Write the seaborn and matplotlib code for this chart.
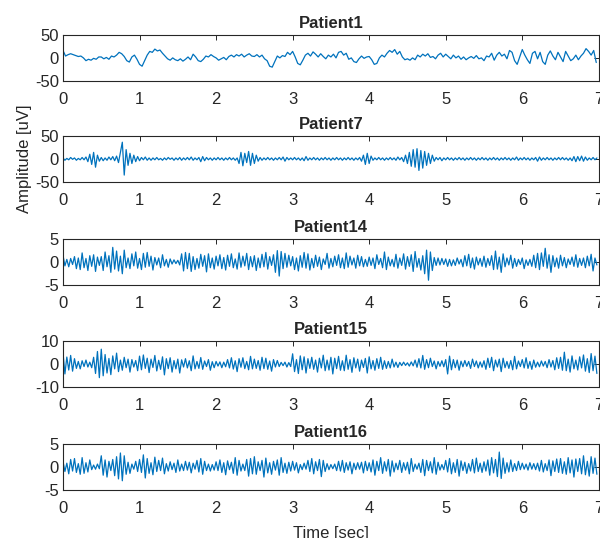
import numpy as np
import pandas as pd
import matplotlib
matplotlib.use("Agg")
import matplotlib.pyplot as plt
import seaborn as sns

# signal values (uV)
patients = ["Patient1", "Patient7", "Patient14", "Patient15", "Patient16"]
ylims = [50, 50, 5, 10, 5]

# Patient1, ~30 samples/sec
p1 = [
    16, 4, 7, 9, 7, 5, 3, 4, 0, -6, -3, -5, -1, -3, 2,
    2, -2, 1, -3, 4, 2, 6, 12, 9, 3, -6, -9, 2, 6, -3,
    -14, -18, -6, 6, 14, 12, 19, 15, 17, 10, 4, -2, -5, 0, -4,
    -6, -2, -7, -3, 2, -4, 8, 2, -6, -8, -3, 4, 2, 7, 3,
    0, -5, -2, 1, -4, 3, 6, 2, 7, 4, 8, 2, 6, 9, 4,
    3, 7, 2, 6, -2, -6, -18, -20, -8, 4, 0, 5, 3, 12, 7,
    14, 2, -12, -15, -5, 6, 10, 4, 13, 8, 2, 9, 3, -2, 6,
    2, 8, 0, 12, 14, 6, 10, -3, 0, -8, -10, -2, 4, -1, 2,
    3, -4, -14, -12, 0, 6, 2, 10, 16, 12, 18, 8, 14, 2, -4,
    -2, -5, 0, -4, 6, 2, 8, 4, 9, 1, 3, -2, 6, 10, 2,
    8, 3, -2, 6, 0, 4, -3, 2, -4, 0, 3, -1, 5, -2, 0,
    -6, 4, 2, 10, -5, 6, 12, 4, 8, -2, 16, 12, -6, -14, 2,
    18, 6, -4, -12, 10, 14, -2, 12, -8, -14, 6, 15, 4, -4, 12,
    2, -8, 14, 4, -6, -2, 6, -4, 4, 10, 20, 14, 6, 16, -10,
]

# Patient7, ~40 samples/sec
p7 = [
    2, -3, 1, -2, 3, -1, 2, -3, 1, -2, 3, -2, 4, -6, 10, -12, 14, -18, 8, -5,
    3, -4, 2, -3, 4, -2, 5, -4, 6, -8, 14, 36, -35, 20, -14, 12, -10, 8, -6, 5,
    -4, 3, -2, 4, -3, 2, -3, 2, -2, 3, -2, 1, -3, 2, -2, 3, -1, 2, -3, 2,
    -2, 3, -3, 2, -2, 3, -2, 4, -3, 2, -2, 3, -6, 5, -4, 3, -2, 2, -3, 2,
    -2, 3, -2, 2, -3, 2, -2, 3, -2, 2, -3, 2, -10, 14, -15, 12, -8, 16, -14, 12,
    -10, 8, -5, 3, -3, 2, -2, 3, -2, 2, -3, 2, -2, 3, -2, 4, -5, 3, -2, 2,
    -2, 3, -2, 2, -3, 2, -4, 5, -3, 2, -2, 3, -2, 2, -3, 2, -2, 3, -2, 2,
    -3, 2, -2, 3, -2, 2, -3, 2, -2, 3, -2, 2, -3, 2, -2, 3, -5, 8, -12, 12,
    -10, 6, -3, 2, -2, 3, -2, 2, -3, 2, -2, 3, -2, 2, -3, 4, -2, 3, -6, 8,
    -10, 14, -16, 20, -18, 22, -25, 18, -20, 16, -14, 12, -10, 8, -5, 3, -2, 3, -4, 2,
    -2, 3, -2, 2, -3, 2, -2, 3, -2, 2, -3, 2, -2, 3, -2, 2, -3, 2, -2, 3,
    -2, 2, -3, 2, -2, 3, -2, 2, -3, 2, -2, 3, -2, 2, -3, 2, -2, 4, -3, 2,
    -2, 3, -2, 2, -3, 2, -2, 3, -5, 4, -3, 2, -2, 3, -2, 2, -3, 2, -2, 3,
    -2, 3, -2, 2, -3, 2, -4, 5, -6, 5, -4, 6, -5, 4, -3, 2, -2, 3, -2, 2,
]

p14 = [
    1.5, -0.8, 0.6, -1.0, 0.8, -0.5, 1.2, -1.4, 0.9, -1.6, 2.0, -1.2, 0.8, -1.8, 1.4, -0.9, 1.6, -2.0, 1.1, -0.7,
    1.2, -1.8, 2.2, -1.0, 1.4, -2.2, 3.2, -1.5, 2.4, -1.9, 1.3, -2.5, 2.6, -1.2, 0.9, -1.4, 1.8, -0.8, 2.2, -1.3,
    0.8, -1.6, 1.9, -1.1, 2.1, -0.9, 1.3, -1.7, 1.0, -0.6, 0.9, -1.2, 1.6, -0.8, 0.6, -1.1, 0.7, -0.4, 0.5, -0.3,
    0.4, -0.6, 1.8, -1.9, 2.1, -1.4, 1.9, -2.0, 1.2, -1.6, 0.8, -1.3, 1.7, -0.9, 1.4, -2.1, 1.8, -1.2, 0.9, -1.5,
    1.3, -0.8, 1.6, -1.4, 1.0, -1.7, 1.5, -0.9, 1.8, -1.2, 0.7, -1.5, 2.0, -1.1, 1.3, -0.8, 1.9, -1.6, 1.2, -1.0,
    1.4, -1.8, 0.9, -1.2, 1.7, -1.0, 2.1, -1.5, 1.2, -0.7, 1.6, -2.2, 2.5, -3.0, 2.3, -1.4, 1.9, -1.1, 1.5, -0.8,
    1.2, -1.6, 0.9, -1.9, 1.4, -1.1, 2.1, -1.3, 1.8, -1.7, 0.8, -1.2, 1.5, -0.9, 1.1, -1.6, 0.7, -0.5, 1.9, -1.3,
    0.8, -1.0, 1.3, -0.7, 1.6, -1.2, 0.9, -1.4, 2.0, -1.1, 1.3, -0.6, 0.9, -1.3, 1.5, -0.8, 1.2, -1.0, 0.6, -0.9,
    1.1, -0.7, 0.9, -1.4, 1.6, -0.5, 0.8, -1.2, 2.2, -1.6, 1.1, -0.8, 0.6, -1.0, 1.7, -1.3, 0.9, -0.7, 1.8, -1.5,
    1.2, -0.9, 1.6, -2.0, 2.3, -1.1, 0.8, -1.7, 1.4, -2.5, 2.6, -3.9, 2.2, -1.8, 1.0, -0.7, 0.9, -0.6, 0.8, -0.5,
    0.7, -0.9, 0.6, -0.8, 0.5, -0.7, 0.9, -0.4, 0.6, -1.0, 1.4, -0.8, 1.7, -1.2, 0.9, -1.5, 1.1, -0.6, 0.8, -0.9,
    1.3, -1.1, 0.8, -0.7, 1.4, -1.6, 2.4, -1.5, 1.1, -2.2, 1.8, -1.0, 0.9, -0.6, 1.5, -1.3, 0.8, -0.9, 0.6, -0.5,
    0.9, -1.4, 0.5, -0.7, 0.6, -0.9, 1.5, -1.2, 1.9, -1.6, 2.0, -0.9, 3.0, -1.3, 1.6, -2.2, 1.4, -1.0, 0.9, -1.3,
    1.5, -0.8, 1.0, -1.2, 0.7, -0.5, 1.1, -0.9, 1.6, -1.1, 0.8, -0.7, 0.9, -1.2, 1.3, -0.8, 1.7, -1.9, 0.9, -0.6,
]

p15 = [
    5.0, -4.2, 3.1, -2.5, 3.8, -3.0, 2.4, -1.8, 1.2, -2.0, 1.5, -1.0, 1.8, -1.2, 0.9, -1.5, 3.0, -4.0, 5.5, -5.8,
    6.5, -5.0, 4.2, -3.8, 2.5, -4.5, 3.6, -2.0, 4.8, -3.2, 1.8, -2.6, 3.0, -1.5, 2.2, -3.4, 2.0, -1.2, 1.6, -2.8,
    3.5, -2.4, 4.0, -1.8, 2.6, -3.6, 2.2, -1.4, 3.8, -2.9, 1.7, -2.2, 3.2, -4.6, 2.4, -1.9, 2.8, -3.4, 1.6, -2.0,
    2.2, -3.8, 1.9, -1.2, 2.4, -1.6, 1.5, -2.8, 3.6, -2.0, 1.2, -1.8, 2.9, -2.2, 1.4, -1.0, 2.0, -2.6, 1.1, -1.5,
    1.2, -0.8, 1.0, -1.5, 0.9, -1.1, 2.0, -1.6, 2.8, -2.1, 1.5, -3.2, 2.4, -1.3, 2.8, -1.9, 1.2, -2.4, 3.4, -2.0,
    2.2, -1.8, 1.6, -2.6, 3.0, -1.9, 2.6, -2.2, 1.4, -3.0, 2.0, -1.2, 1.6, -1.0, 0.8, -0.6, 0.9, -1.2, 0.7, -1.0,
    4.5, -3.2, 2.0, -4.0, 3.6, -2.4, 3.2, -3.8, 2.4, -1.8, 3.0, -2.2, 1.8, -3.4, 2.6, -1.6, 3.9, -2.8, 1.8, -2.5,
    3.0, -4.2, 2.6, -1.9, 3.4, -2.6, 1.5, -2.8, 3.9, -2.2, 2.0, -3.5, 2.8, -1.6, 2.2, -3.0, 1.8, -1.4, 2.5, -3.8,
    3.2, -2.0, 1.6, -2.6, 2.4, -1.8, 3.0, -2.2, 1.5, -1.8, 1.2, -1.6, 2.2, -1.2, 0.9, -1.4, 0.8, -0.6, 0.9, -0.5,
    0.6, -0.8, 1.0, -0.7, 1.8, -1.3, 2.4, -1.6, 3.8, -2.2, 2.0, -1.5, 2.6, -1.0, 1.4, -2.0, 1.2, -0.9, 1.5, -1.1,
    2.0, -4.2, 3.5, -2.4, 2.0, -1.5, 1.8, -2.6, 1.3, -1.1, 1.6, -0.9, 1.2, -1.8, 2.2, -1.0, 1.4, -1.6, 1.0, -1.3,
    1.5, -2.2, 2.6, -1.4, 3.0, -2.8, 1.8, -1.2, 2.2, -3.2, 2.6, -1.5, 1.2, -1.8, 1.6, -2.4, 3.4, -2.0, 1.4, -1.0,
    2.0, -1.6, 2.8, -1.8, 1.2, -2.2, 1.8, -1.3, 0.9, -1.1, 1.4, -0.8, 1.2, -1.5, 2.0, -1.2, 1.6, -2.4, 2.8, -1.8,
    3.0, -2.6, 5.2, -2.8, 2.2, -3.4, 3.6, -2.0, 1.8, -2.5, 3.2, -1.6, 4.0, -3.0, 2.4, -3.6, 4.6, -2.8, 3.5, -4.0,
]

p16 = [
    1.2, -1.0, 0.8, -1.5, 1.6, -0.9, 1.8, -1.2, 0.7, -1.6, 2.0, -1.4, 0.9, -1.1, 1.5, -0.6, 0.4, -0.5, 0.6, -0.4,
    2.4, -1.8, 1.5, -2.2, 1.2, -0.8, 1.6, -1.9, 2.2, -2.6, 3.0, -3.0, 2.4, -1.6, 1.0, -1.4, 0.6, -0.5, 1.2, -1.0,
    1.6, -1.2, 2.6, -2.4, 1.8, -1.4, 0.9, -1.7, 2.1, -1.0, 1.4, -0.8, 1.9, -1.5, 0.7, -0.9, 1.1, -0.6, 0.8, -1.2,
    1.5, -0.9, 0.6, -0.8, 1.2, -0.7, 1.0, -1.3, 0.8, -0.5, 1.4, -1.1, 1.8, -1.6, 1.2, -0.8, 0.6, -0.9, 0.5, -0.7,
    1.1, -0.8, 1.5, -1.2, 0.9, -1.7, 1.3, -0.6, 1.0, -1.4, 2.0, -1.8, 1.4, -0.9, 0.6, -0.8, 1.6, -2.0, 1.8, -1.5,
    2.2, -1.6, 1.1, -0.8, 1.4, -2.2, 1.9, -1.3, 0.9, -1.6, 1.2, -0.7, 1.5, -1.8, 2.0, -1.2, 0.8, -1.4, 1.0, -0.9,
    1.2, -0.7, 0.9, -1.3, 0.5, -0.6, 0.8, -0.5, 1.4, -1.0, 1.8, -1.5, 1.1, -0.8, 1.6, -2.1, 1.4, -1.0, 0.7, -0.6,
    0.5, -0.4, 0.6, -0.8, 1.2, -0.9, 1.4, -1.2, 0.9, -0.7, 1.1, -1.5, 0.8, -0.6, 0.9, -0.5, 1.0, -1.3, 1.2, -0.8,
    0.9, -1.1, 1.5, -1.8, 1.2, -0.8, 2.0, -1.4, 1.1, -0.9, 1.6, -2.0, 1.3, -1.1, 0.8, -0.6, 1.4, -1.2, 0.9, -0.7,
    1.0, -1.5, 1.8, -1.0, 0.6, -0.5, 0.8, -1.2, 1.6, -1.9, 1.4, -0.8, 1.1, -1.3, 2.0, -1.6, 1.0, -0.7, 0.5, -0.6,
    1.4, -1.1, 1.8, -1.5, 0.9, -1.2, 1.6, -2.0, 1.3, -0.8, 1.0, -1.4, 0.7, -0.9, 1.6, -1.3, 1.9, -1.0, 0.8, -1.2,
    1.1, -0.9, 1.5, -1.8, 2.0, -1.3, 1.6, -2.1, 3.2, -2.5, 1.9, -1.4, 0.9, -1.1, 1.5, -1.0, 0.7, -0.8, 1.2, -0.6,
    0.8, -0.5, 0.6, -0.7, 0.9, -0.5, 0.7, -0.6, 0.8, -0.9, 1.4, -1.1, 0.7, -0.8, 1.5, -1.9, 1.3, -1.0, 1.7, -1.2,
    1.8, -1.4, 1.1, -1.6, 2.0, -1.3, 1.5, -2.2, 1.7, -1.0, 1.8, -1.5, 2.4, -1.7, 1.2, -2.0, 2.2, -1.4, 1.9, -1.6,
]

signals = [p1, p7, p14, p15, p16]

sns.set_style("white")
plt.rcParams['font.family'] = ['Liberation Sans', 'DejaVu Sans']
plt.rcParams['axes.unicode_minus'] = False
txt = '#262626'

fig = plt.figure(figsize=(6, 5.38), dpi=100)
bottoms = [0.8494, 0.6617, 0.4697, 0.2800, 0.0892]
h = 0.086

for i, (name, sig, lim) in enumerate(zip(patients, signals, ylims)):
    ax = fig.add_axes([0.105, bottoms[i], 0.893, h])
    t = np.arange(len(sig)) * 7.0 / len(sig)
    df = pd.DataFrame({"t": t, "v": sig})
    sns.lineplot(data=df, x="t", y="v", ax=ax, color='#0072BD',
                 linewidth=0.9, estimator=None)
    ax.set_xlim(0, 7)
    ax.set_ylim(-lim, lim)
    ax.set_xticks(range(8))
    ax.set_yticks([-lim, 0, lim])
    ax.tick_params(direction='in', length=3.5, width=0.7, top=True, right=True,
                   labelsize=12, colors=txt, labelcolor=txt, pad=3)
    ax.tick_params(axis='x', pad=8)
    for s in ax.spines.values():
        s.set_color(txt)
        s.set_linewidth(0.8)
    ax.set_title(name, fontsize=12, fontweight='bold', pad=5)
    ax.set_xlabel("")
    ax.set_ylabel("")
    if i == 1:
        ax.set_ylabel("Amplitude [uV]", fontsize=12, color=txt, labelpad=2)
    if i == 4:
        ax.set_xlabel("Time [sec]", fontsize=12, color=txt, labelpad=7)

fig.savefig("out.png", dpi=100)
